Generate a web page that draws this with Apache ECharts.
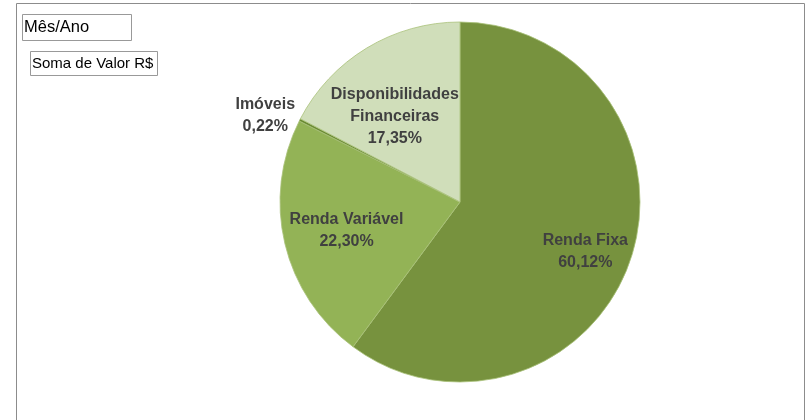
<!DOCTYPE html>
<html>
<head>
<meta charset="utf-8">
<script src="https://cdn.jsdelivr.net/npm/echarts@6/dist/echarts.min.js"></script>
<style>
  html, body { margin: 0; padding: 0; background: #fff; }
  #chart { width: 811px; height: 420px; }
</style>
</head>
<body>
<div id="chart"></div>
<script>
// dados do gráfico (percentuais)
const categorias = ['Renda Fixa', 'Renda Variável', 'Imóveis', 'Disponibilidades\nFinanceiras'];
const percentuais = [60.12, 22.30, 0.22, 17.35];

// estilo por fatia
const cores = ['#77923e', '#93b356', '#6a8a33', '#d0deba'];
const deslocLabel = [[37, 21], [-23, 7], [-112, -44], [-17, -6]];

const datas = [];
for (let i = 0; i < categorias.length; i++) {
    datas.push({
        name: categorias[i],
        value: percentuais[i],
        itemStyle: { color: cores[i] },
        label: { offset: deslocLabel[i] }
    });
}

const fonte = '"Liberation Sans", Arial, sans-serif';
let myChart = echarts.init(document.getElementById('chart'));
let option = {
    animation: false,
    graphic: [
        { type: 'rect', shape: { x: 16.5, y: 3.5, width: 788, height: 430 },
          style: { fill: 'none', stroke: '#8c8c8c', lineWidth: 1 } },
        { type: 'rect', shape: { x: 22.5, y: 14.5, width: 109, height: 26 },
          style: { fill: '#fff', stroke: '#999', lineWidth: 1 } },
        { type: 'text', x: 24, y: 27.5,
          style: { text: 'Mês/Ano', fill: '#000', font: '16.5px ' + fonte, verticalAlign: 'middle' } },
        { type: 'rect', shape: { x: 30.5, y: 51.5, width: 127, height: 24 },
          style: { fill: '#fff', stroke: '#999', lineWidth: 1 } },
        { type: 'text', x: 32, y: 64,
          style: { text: 'Soma de Valor R$', fill: '#000', font: '15px ' + fonte, verticalAlign: 'middle' } }
    ],
    series: [{
        type: 'pie',
        center: [460, 202],
        radius: 180,
        startAngle: 90,
        clockwise: true,
        avoidLabelOverlap: false,
        itemStyle: { borderColor: '#a9c27a', borderWidth: 0.8 },
        label: {
            show: true,
            position: 'inside',
            formatter: function (p) {
                return p.name + '\n' + p.value.toFixed(2).replace('.', ',') + '%';
            },
            color: '#404040',
            fontFamily: fonte,
            fontWeight: 'bold',
            fontSize: 16,
            lineHeight: 22,
            align: 'center'
        },
        labelLine: { show: false },
        emphasis: { disabled: true },
        data: datas
    }]
};
myChart.setOption(option);
</script>
</body>
</html>
